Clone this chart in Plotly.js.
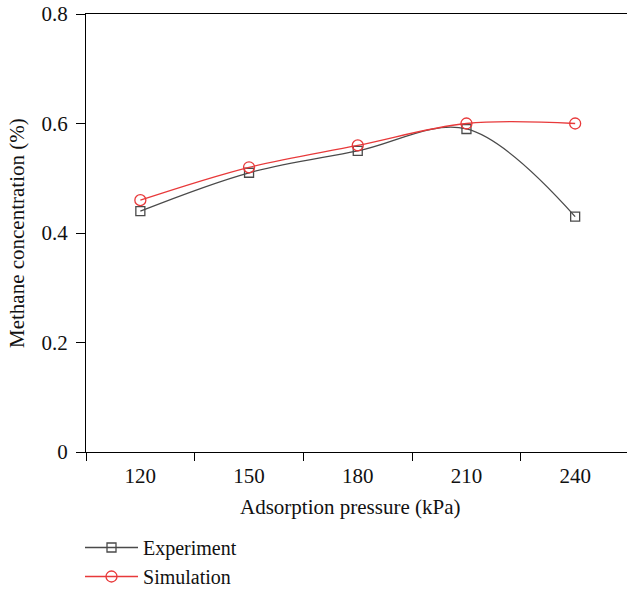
<!DOCTYPE html>
<html>
<head>
<meta charset="utf-8">
<script src="https://cdn.plot.ly/plotly-3.0.1.min.js"></script>
<style>html,body{margin:0;padding:0;background:#fff;}#chart{width:627px;height:589px;}</style>
</head>
<body>
<div id="chart"></div>
<script>
const pressures = ['120', '150', '180', '210', '240'];
const experiment = [0.44, 0.51, 0.55, 0.59, 0.43];
const simulation = [0.46, 0.52, 0.56, 0.60, 0.60];
const yTicks = [0, 0.2, 0.4, 0.6, 0.8];
const yTickText = ['0', '0.2', '0.4', '0.6', '0.8'];
const xTitle = 'Adsorption pressure (kPa)';
const yTitle = 'Methane concentration (%)';

const font = "'Liberation Serif', 'DejaVu Serif', serif";
const fs = 21;

const traces = [
  {
    x: pressures, y: experiment, name: 'Experiment', type: 'scatter', mode: 'lines+markers',
    line: {color: '#4a4a4a', width: 1.3, shape: 'spline', smoothing: 1},
    marker: {symbol: 'square-open', size: 9, color: '#4a4a4a', line: {width: 1.3}}
  },
  {
    x: pressures, y: simulation, name: 'Simulation', type: 'scatter', mode: 'lines+markers',
    line: {color: '#e8393a', width: 1.3, shape: 'spline', smoothing: 1},
    marker: {symbol: 'circle-open', size: 11, color: '#e8393a', line: {width: 1.3}}
  }
];

const layout = {
  width: 627, height: 589,
  margin: {l: 86, r: 0, t: 14, b: 137, autoexpand: false},
  paper_bgcolor: '#fff', plot_bgcolor: '#fff',
  font: {family: font, size: fs, color: '#111'},
  showlegend: true,
  legend: {x: 0.1276, y: 0.1036, xref: 'container', yref: 'container', xanchor: 'left', yanchor: 'top',
           orientation: 'v', itemwidth: 53, font: {family: font, size: 20, color: '#111'},
           tracegroupgap: 0, bgcolor: 'rgba(0,0,0,0)'},
  xaxis: {
    type: 'category', categoryorder: 'array', categoryarray: pressures,
    range: [-0.5, 4.477], tickson: 'boundaries',
    showline: true, linecolor: '#000', linewidth: 1, mirror: true,
    ticks: 'outside', ticklen: 8, tickcolor: '#000', tickwidth: 1,
    ticklabelstandoff: 5, automargin: false,
    showgrid: false, zeroline: false,
    tickfont: {family: font, size: fs, color: '#111'}
  },
  yaxis: {
    range: [0, 0.8], tickvals: yTicks, ticktext: yTickText,
    showline: true, linecolor: '#000', linewidth: 1,
    ticks: 'outside', ticklen: 9, tickcolor: '#000', tickwidth: 1,
    ticklabelstandoff: 4, automargin: false,
    showgrid: false, zeroline: false,
    tickfont: {family: font, size: fs, color: '#111'}
  },
  annotations: [
    {text: xTitle, xref: 'paper', yref: 'paper', x: 0.488, y: -0.1256, xanchor: 'center', yanchor: 'middle',
     showarrow: false, font: {family: font, size: fs, color: '#111'}},
    {text: yTitle, xref: 'paper', yref: 'paper', x: -0.1275, y: 0.5, xanchor: 'center', yanchor: 'middle',
     textangle: -90, showarrow: false, font: {family: font, size: fs, color: '#111'}}
  ]
};

Plotly.newPlot('chart', traces, layout, {displayModeBar: false, staticPlot: true});
</script>
</body>
</html>
